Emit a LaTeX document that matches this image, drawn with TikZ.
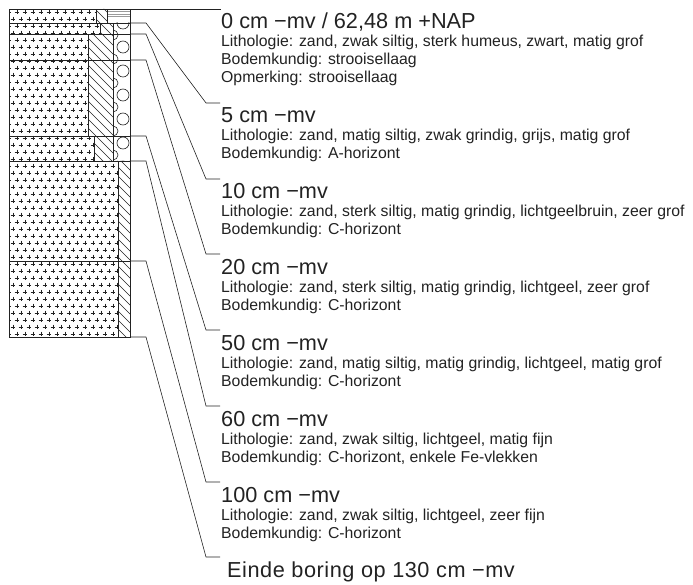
\documentclass[tikz,border=0pt]{standalone}
\usepackage{fontspec}
\setmainfont{Liberation Sans}
\usepackage{xcolor}
\usepackage{tikz}
\definecolor{inkgray}{HTML}{222222}
\definecolor{litter}{HTML}{9A9A9A}
\newcommand{\hdfont}{\fontsize{21.7}{24}\selectfont}
\newcommand{\txfont}{\fontsize{15.8}{18}\selectfont}
\tikzset{
  hdr/.style={anchor=base west, inner sep=0pt, font=\hdfont, text=inkgray},
  txt/.style={anchor=base west, inner sep=0pt, font=\txfont, text=inkgray},
  lead/.style={draw=inkgray, line width=0.6pt},
  cell/.style={draw=inkgray, line width=0.8pt},
  plus/.style={draw=inkgray, line width=0.55pt},
  hatch/.style={draw=inkgray, line width=0.6pt},
}

\begin{document}
\begin{tikzpicture}[x=1pt, y=-1pt]
\useasboundingbox (0,0) rectangle (693,585);
% zand
\begin{scope}
\clip (9,9) -| (96,23) -| (100,34) -| (88,136) -| (94,161) -| (118,337) -- (9,337) -- cycle;
\foreach \r in {0,...,47} {
  \pgfmathsetmacro\yy{12+7*\r}
  \pgfmathsetmacro\xo{mod(\r,2)*4}
  \foreach \c in {0,...,14}
    \draw[plus] ({9+\xo+8*\c},\yy) +(-2.4,0) -- +(2.4,0) +(0,-2.4) -- +(0,2.4);
}
\end{scope}
% silt
\begin{scope}
\clip (96,9) rectangle (107,23) (100,23) rectangle (113,34) (88,34) rectangle (113,136)
  (94,136) rectangle (113,161) (118,161) rectangle (130,337);
\foreach \c in {-140,-131,...,340}
  \draw[hatch] (0,\c) -- ++(150,150);
\end{scope}
% grind
\begin{scope}
\clip (113,23) rectangle (130,161);
\foreach \k in {0,...,6} {
  \draw[hatch] (123,{23+24*\k}) circle (6pt);
  \draw[hatch] (113,{35+24*\k}) circle (5pt);
}
\end{scope}
% strooisellaag
\foreach \y in {12,14.5,17}
  \draw[litter, line width=1pt] (107,\y) -- (130,\y);
% lagen
\draw[cell] (9,9) rectangle (96,23) (96,9) rectangle (107,23) (107,9) rectangle (130,23);
\draw[cell] (9,23) rectangle (100,34) (100,23) rectangle (113,34) (113,23) rectangle (130,34);
\draw[cell] (9,34) rectangle (88,60) (88,34) rectangle (113,60) (113,34) rectangle (130,60);
\draw[cell] (9,60) rectangle (88,136) (88,60) rectangle (113,136) (113,60) rectangle (130,136);
\draw[cell] (9,136) rectangle (94,161) (94,136) rectangle (113,161) (113,136) rectangle (130,161);
\draw[cell] (9,161) rectangle (118,261) (118,161) rectangle (130,261);
\draw[cell] (9,261) rectangle (118,337) (118,261) rectangle (130,337);

\coordinate (k0) at (130,9);
\coordinate (k5) at (130,23);
\coordinate (k10) at (130,34);
\coordinate (k20) at (130,60);
\coordinate (k50) at (130,136);
\coordinate (k60) at (130,161);
\coordinate (k100) at (130,261);
\coordinate (k130) at (130,337);

\node[hdr] (h0) at (221,29) {0 cm −mv / 62,48 m +NAP};
\node[txt] (l0) at ([yshift=-18pt]h0.base west) {Lithologie: zand, zwak siltig, sterk humeus, zwart, matig grof};
\node[txt] (b0) at ([yshift=-18pt]l0.base west) {Bodemkundig: strooisellaag};
\node[txt] (o0) at ([yshift=-18pt]b0.base west) {Opmerking: strooisellaag};

\node[hdr] (h5) at (221,123) {5 cm −mv};
\node[txt] (l5) at ([yshift=-18pt]h5.base west) {Lithologie: zand, matig siltig, zwak grindig, grijs, matig grof};
\node[txt] (b5) at ([yshift=-18pt]l5.base west) {Bodemkundig: A-horizont};

\node[hdr] (h10) at (221,199) {10 cm −mv};
\node[txt] (l10) at ([yshift=-18pt]h10.base west) {Lithologie: zand, sterk siltig, matig grindig, lichtgeelbruin, zeer grof};
\node[txt] (b10) at ([yshift=-18pt]l10.base west) {Bodemkundig: C-horizont};

\node[hdr] (h20) at (221,274) {20 cm −mv};
\node[txt] (l20) at ([yshift=-18pt]h20.base west) {Lithologie: zand, sterk siltig, matig grindig, lichtgeel, zeer grof};
\node[txt] (b20) at ([yshift=-18pt]l20.base west) {Bodemkundig: C-horizont};

\node[hdr] (h50) at (221,350) {50 cm −mv};
\node[txt] (l50) at ([yshift=-18pt]h50.base west) {Lithologie: zand, matig siltig, matig grindig, lichtgeel, matig grof};
\node[txt] (b50) at ([yshift=-18pt]l50.base west) {Bodemkundig: C-horizont};

\node[hdr] (h60) at (221,426) {60 cm −mv};
\node[txt] (l60) at ([yshift=-18pt]h60.base west) {Lithologie: zand, zwak siltig, lichtgeel, matig fijn};
\node[txt] (b60) at ([yshift=-18pt]l60.base west) {Bodemkundig: C-horizont, enkele Fe-vlekken};

\node[hdr] (h100) at (221,502) {100 cm −mv};
\node[txt] (l100) at ([yshift=-18pt]h100.base west) {Lithologie: zand, zwak siltig, lichtgeel, zeer fijn};
\node[txt] (b100) at ([yshift=-18pt]l100.base west) {Bodemkundig: C-horizont};

\node[hdr] (he) at (227,577) {\addfontfeature{LetterSpace=2.5}Einde boring op 130 cm −mv};

\draw[lead] (k0) -- ([yshift=20pt]h0.base west);
\draw[lead] (k5) -- ++(16,0) -- ([shift={(-15pt,20pt)}]h5.base west) -- ([shift={(-1pt,20pt)}]h5.base west);
\draw[lead] (k10) -- ++(16,0) -- ([shift={(-15pt,20pt)}]h10.base west) -- ([shift={(-1pt,20pt)}]h10.base west);
\draw[lead] (k20) -- ++(16,0) -- ([shift={(-15pt,20pt)}]h20.base west) -- ([shift={(-1pt,20pt)}]h20.base west);
\draw[lead] (k50) -- ++(16,0) -- ([shift={(-15pt,20pt)}]h50.base west) -- ([shift={(-1pt,20pt)}]h50.base west);
\draw[lead] (k60) -- ++(16,0) -- ([shift={(-15pt,20pt)}]h60.base west) -- ([shift={(-1pt,20pt)}]h60.base west);
\draw[lead] (k100) -- ++(16,0) -- ([shift={(-15pt,20pt)}]h100.base west) -- ([shift={(-1pt,20pt)}]h100.base west);
\draw[lead] (k130) -- ++(16,0) -- ([shift={(-21pt,20pt)}]he.base west) -- ([shift={(-7pt,20pt)}]he.base west);
\end{tikzpicture}
\end{document}
